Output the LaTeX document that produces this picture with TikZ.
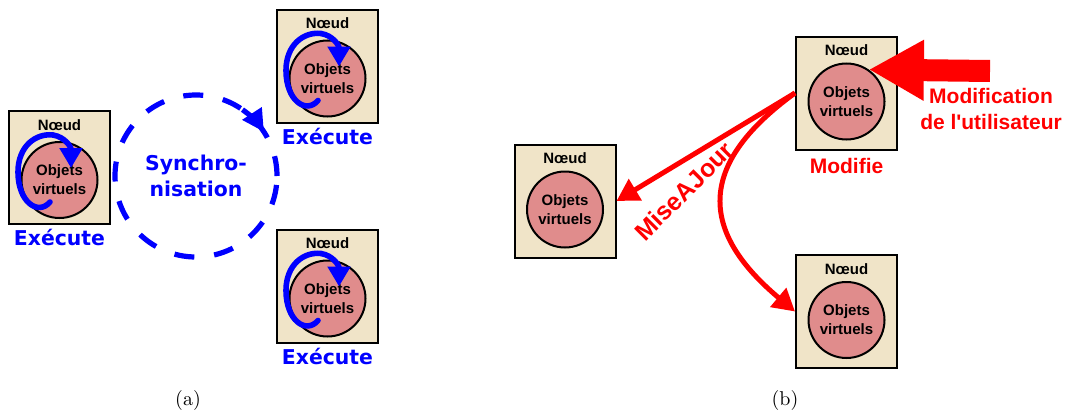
\documentclass[tikz,border=0pt]{standalone}
\usepackage{fontspec}
\newfontfamily\helv{Liberation Sans}
\newfontfamily\vera{DejaVu Sans}
\usetikzlibrary{arrows.meta,positioning}
\definecolor{fondnoeud}{RGB}{240,228,200}
\definecolor{fondobjet}{RGB}{224,140,140}

\begin{document}
\begin{tikzpicture}[x=0.5pt,y=0.5pt,
	noeud/.style={rectangle, draw, line width=1pt, fill=fondnoeud, minimum width=50.5pt, minimum height=56.5pt, inner sep=0pt},
	titre/.style={font=\helv\bfseries\fontsize{7.5}{9}\selectfont, inner sep=0pt},
	objets/.style={circle, draw, line width=1pt, fill=fondobjet, minimum size=38pt, inner sep=0pt, align=center, font=\helv\bfseries\fontsize{7.5}{9.5}\selectfont},
	bleu/.style={font=\vera\bfseries\fontsize{10.2}{13.3}\selectfont, text=blue, inner sep=0pt},
	rouge/.style={font=\helv\bfseries\fontsize{10.5}{13}\selectfont, text=red, inner sep=0pt},
	boucle/.style={blue, line width=2.8pt, line cap=round, -{Triangle[length=10pt,width=11pt]}},
	maj/.style={red, line width=2.5pt, -{Triangle[length=11pt,width=12pt]}}]
	\useasboundingbox (0,0) rectangle (1065,-412);
	% (a) execution sur chaque noeud
	\node (NA1)  at (59.5,-167.5)	[noeud]	{};
	\node (NA1t) at ([yshift=-7.5pt]NA1.north)	[titre]	{Nœud};
	\node (NA1o) at ([yshift=-35pt]NA1.north)	[objets]	{Objets\\virtuels};
	\node (NA1e) at ([yshift=-10.25pt]NA1.south)	[bleu, anchor=base]	{Exécute};
	\node (NA2)  at (327.5,-66)	[noeud]	{};
	\node (NA2t) at ([yshift=-7.5pt]NA2.north)	[titre]	{Nœud};
	\node (NA2o) at ([yshift=-35pt]NA2.north)	[objets]	{Objets\\virtuels};
	\node (NA2e) at ([yshift=-10.25pt]NA2.south)	[bleu, anchor=base]	{Exécute};
	\node (NA3)  at (327.5,-286)	[noeud]	{};
	\node (NA3t) at ([yshift=-7.5pt]NA3.north)	[titre]	{Nœud};
	\node (NA3o) at ([yshift=-35pt]NA3.north)	[objets]	{Objets\\virtuels};
	\node (NA3e) at ([yshift=-10.25pt]NA3.south)	[bleu, anchor=base]	{Exécute};
	\foreach \n in {NA1,NA2,NA3} {
		\begin{scope}[shift={(\n.north west)}]
			\draw[boucle] (42,-92) .. controls (30,-106) and (10,-92) .. (10,-62)
				.. controls (10,-36) and (28,-23) .. (45,-25)
				.. controls (57,-27) and (63,-37) .. (63,-58);
		\end{scope}
	}
	\node (SYNC) at (196,-176)	[circle, draw=blue, line width=2.6pt, dash pattern=on 10pt off 10pt, minimum size=81pt, outer sep=0pt, bleu, align=center]	{Synchro-\\nisation};
	\draw[blue, line width=2.6pt, -{Triangle[length=11pt,width=11pt]}] (SYNC.55) arc[start angle=55, end angle=33, radius=81];
	% (b) propagation des modifications
	\node (NB1)  at (846.5,-93)	[noeud]	{};
	\node (NB1t) at ([yshift=-7.5pt]NB1.north)	[titre]	{Nœud};
	\node (NB1o) at ([yshift=-33pt]NB1.north)	[objets]	{Objets\\virtuels};
	\node (NB1m) at ([yshift=-11.3pt]NB1.south)	[rouge, anchor=base]	{Modifie};
	\node (NB2)  at (565,-201)	[noeud]	{};
	\node (NB2t) at ([yshift=-7.5pt]NB2.north)	[titre]	{Nœud};
	\node (NB2o) at ([yshift=-33pt]NB2.north)	[objets]	{Objets\\virtuels};
	\node (NB3)  at (846.5,-311.5)	[noeud]	{};
	\node (NB3t) at ([yshift=-7.5pt]NB3.north)	[titre]	{Nœud};
	\node (NB3o) at ([yshift=-33pt]NB3.north)	[objets]	{Objets\\virtuels};
	\draw[maj] (NB1.west) -- (NB2.east);
	\draw[maj] (NB1.west) to[out=216, in=140, looseness=1.45] (NB3.west);
	\node (MAJ)  at (684,-191)	[rouge, font=\helv\bfseries\fontsize{12.5}{14}\selectfont, rotate=45]	{MiseAJour};
	\coordinate (USER) at (990,-71);
	\draw[red, line width=11pt, -{Triangle[length=27.5pt,width=28.5pt]}] (USER) -- (NB1o.55);
	\node (MODU) at (991,-109)	[rouge, align=center]	{Modification\\de l\textquotesingle utilisateur};
	% legendes
	\node (CA) at (188,-405)	[anchor=base]	{(a)};
	\node (CB) at (785,-405)	[anchor=base]	{(b)};
\end{tikzpicture}
\end{document}
